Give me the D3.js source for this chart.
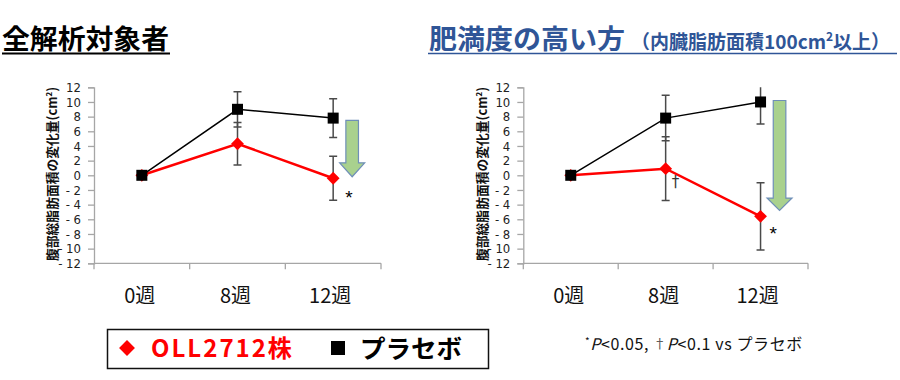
<!DOCTYPE html>
<html><head><meta charset="utf-8">
<script src="https://cdn.jsdelivr.net/npm/d3@7"></script>
<style>
body{margin:0;background:#fff;}
svg{display:block;}
</style></head>
<body>
<svg id="chart" width="900" height="380"></svg>
<script>
// ---- data ----
const categories = ["0週", "8週", "12週"];
const yTicks = [12, 10, 8, 6, 4, 2, 0, -2, -4, -6, -8, -10, -12];

const allOll   = [0, 4.3, -0.4];
const allOllSE = [0, 2.9, 3.0];
const allPla   = [0, 9.0, 7.8];
const allPlaSE = [0, 2.4, 2.65];

const obOll   = [0, 0.9, -5.6];
const obOllSE = [0, 4.35, 4.6];
const obPla   = [0, 7.8, 10.0];
const obPlaSE = [0, 3.1, 3.0];

// annotation values (arrow top / head start / tip) in data units
const allArrow = [7.5, 1.7, -0.2];
const obArrow  = [10.2, -3.1, -4.8];

const svg = d3.select("#chart");
const red = "#ff0000";

function panel(opts) {
  const x = d3.scaleBand().domain(categories).range([opts.x0, opts.x1]);
  const y = d3.scaleLinear().domain([-12, 12]).range([263.3, 87.3]);
  const g = svg.append("g");
  const axisCol = "#a6a6a6";

  // y axis
  const ya = g.append("g").attr("transform", `translate(${opts.x0},0)`)
    .call(d3.axisLeft(y).tickValues(yTicks).tickSize(6).tickPadding(7).tickFormat(d => d < 0 ? "- " + Math.abs(d) : d));
  ya.select(".domain").attr("stroke", axisCol).attr("stroke-width", 1.3);
  ya.selectAll(".tick line").attr("stroke", axisCol).attr("stroke-width", 1.3);
  ya.selectAll(".tick text").attr("fill", "#222")
    .style("font-family", "'Liberation Sans Narrow','DejaVu Sans Condensed',sans-serif")
    .style("font-size", "13px");

  // x axis line + boundary ticks
  const bounds = categories.map(c => x(c)).concat([opts.x1]);
  g.append("line").attr("x1", opts.x0).attr("x2", opts.x1)
    .attr("y1", y(-12)).attr("y2", y(-12)).attr("stroke", axisCol).attr("stroke-width", 1.3);
  g.selectAll(".xt").data(bounds).join("line")
    .attr("x1", d => d).attr("x2", d => d).attr("y1", y(-12)).attr("y2", y(-12) + 6)
    .attr("stroke", axisCol).attr("stroke-width", 1.3);
  g.selectAll(".xl").data(categories).join("text")
    .attr("x", d => x(d) + x.bandwidth() / 2 + (d === "12週" ? -3 : -2))
    .attr("y", 303)
    .attr("text-anchor", "middle")
    .style("font-family", "'Noto Sans CJK JP',sans-serif")
    .style("font-size", "20px").attr("fill", "#111").text(d => d);

  // y title
  g.append("text")
    .attr("transform", `translate(${opts.titleX},${174}) rotate(-90)`)
    .attr("text-anchor", "middle").attr("dominant-baseline", "central")
    .attr("textLength", 174).attr("lengthAdjust", "spacingAndGlyphs")
    .style("font-family", "'Noto Sans CJK JP',sans-serif").style("font-weight", "bold")
    .style("font-size", "13px").attr("fill", "#111")
    .html("腹部総脂肪面積の変化量(cm<tspan font-size='8' dy='-3'>2</tspan><tspan dy='3'>)</tspan>");

  const cx = c => x(c) + x.bandwidth() / 2;
  const clip = "clip" + opts.id;
  svg.append("clipPath").attr("id", clip).append("rect")
    .attr("x", opts.x0).attr("y", y(12)).attr("width", opts.x1 - opts.x0).attr("height", y(-12) - y(12));
  const pg = g.append("g").attr("clip-path", `url(#${clip})`);

  // error bars
  function errs(vals, se, col) {
    const d = categories.map((c, i) => ({c, v: vals[i], s: se[i]})).filter(e => e.s > 0);
    pg.selectAll(null).data(d).join("line")
      .attr("x1", e => cx(e.c)).attr("x2", e => cx(e.c))
      .attr("y1", e => y(e.v + e.s)).attr("y2", e => y(e.v - e.s))
      .attr("stroke", col).attr("stroke-width", 1.5);
    [1, -1].forEach(sg => {
      pg.selectAll(null).data(d).join("line")
        .attr("x1", e => cx(e.c) - 4).attr("x2", e => cx(e.c) + 4)
        .attr("y1", e => y(e.v + sg * e.s)).attr("y2", e => y(e.v + sg * e.s))
        .attr("stroke", col).attr("stroke-width", 1.5);
    });
  }
  errs(opts.pla, opts.plaSE, "#4a4a4a");
  errs(opts.oll, opts.ollSE, "#4a4a4a");

  const line = d3.line().x((d, i) => cx(categories[i])).y(d => y(d));
  pg.append("path").datum(opts.oll).attr("d", line).attr("fill", "none").attr("stroke", red).attr("stroke-width", 2.5);
  pg.append("path").datum(opts.pla).attr("d", line).attr("fill", "none").attr("stroke", "#000").attr("stroke-width", 1.5);

  // markers
  pg.selectAll(null).data(opts.oll).join("path")
    .attr("d", d3.symbol(d3.symbolDiamond2, 105)())
    .attr("transform", (d, i) => `translate(${cx(categories[i])},${y(d)})`)
    .attr("fill", red);
  pg.selectAll(null).data(opts.pla).join("rect")
    .attr("x", (d, i) => cx(categories[i]) - 5.5).attr("y", d => y(d) - 5.5)
    .attr("width", 11).attr("height", 11).attr("fill", "#000");

  // arrow annotation
  const a = opts.arrow;
  const ax = cx("12週") + opts.arrowDx;
  const sw = 6.3, hw = 12.5;
  const pts = [[ax - sw, y(a[0])], [ax + sw, y(a[0])], [ax + sw, y(a[1])], [ax + hw, y(a[1])],
               [ax, y(a[2])], [ax - hw, y(a[1])], [ax - sw, y(a[1])]];
  g.append("polygon").attr("points", pts.map(p => p.join(",")).join(" "))
    .attr("fill", "#a9d18e").attr("stroke", "#6f8fb8").attr("stroke-width", 1.2);
  return {x, y, g, cx};
}

const L = panel({id: "a", x0: 94, x1: 381, titleX: 51, oll: allOll, ollSE: allOllSE, pla: allPla, plaSE: allPlaSE, arrow: allArrow, arrowDx: 19});
const R = panel({id: "b", x0: 523.3, x1: 808, titleX: 481, oll: obOll, ollSE: obOllSE, pla: obPla, plaSE: obPlaSE, arrow: obArrow, arrowDx: 19});

// significance marks
L.g.append("text").attr("x", L.cx("12週") + 12).attr("y", L.y(allOll[2] - 3.0) + 4)
  .style("font-family", "'Liberation Sans',sans-serif").style("font-size", "19px").text("*");
R.g.append("text").attr("x", R.cx("12週") + 9).attr("y", R.y(obOll[2] - 2.7) + 4)
  .style("font-family", "'Liberation Sans',sans-serif").style("font-size", "19px").text("*");
R.g.append("text").attr("x", R.cx("8週") + 6).attr("y", R.y(obOll[1] - 2.5))
  .style("font-family", "'DejaVu Sans',sans-serif").style("font-size", "15px").attr("fill", "#333").text("†");

// titles
svg.append("text").attr("x", 2).attr("y", 49)
  .style("font-family", "'Noto Sans CJK JP',sans-serif").style("font-weight", "bold").style("font-size", "27px")
  .attr("textLength", 167).attr("lengthAdjust", "spacingAndGlyphs")
  .attr("fill", "#000").text("全解析対象者");
svg.append("line").attr("x1", 2).attr("x2", 170).attr("y1", 53.5).attr("y2", 53.5).attr("stroke", "#000").attr("stroke-width", 2);

const blue = "#2f5597";
svg.append("text").attr("x", 429).attr("y", 49)
  .style("font-family", "'Noto Sans CJK JP',sans-serif").style("font-weight", "bold").style("font-size", "27px")
  .attr("textLength", 196).attr("lengthAdjust", "spacingAndGlyphs")
  .attr("fill", blue).text("肥満度の高い方");
svg.append("text").attr("x", 631).attr("y", 49)
  .style("font-family", "'Noto Sans CJK JP',sans-serif").style("font-weight", "bold").style("font-size", "19px")
  .attr("fill", blue)
  .html("（内臓脂肪面積100cm<tspan font-size='12' dy='-8'>2</tspan><tspan dy='8'>以上）</tspan>");
svg.append("line").attr("x1", 428).attr("x2", 897).attr("y1", 53.5).attr("y2", 53.5).attr("stroke", blue).attr("stroke-width", 1.5);

// legend
svg.append("rect").attr("x", 107.5).attr("y", 329.5).attr("width", 381).attr("height", 39)
  .attr("fill", "#fff").attr("stroke", "#111").attr("stroke-width", 1.5);
svg.append("path").attr("d", d3.symbol(d3.symbolDiamond2, 160)()).attr("transform", "translate(127,348)").attr("fill", red);
svg.append("text").attr("x", 151).attr("y", 357)
  .style("font-family", "'Noto Sans CJK JP',sans-serif").style("font-weight", "bold").style("font-size", "24px")
  .style("letter-spacing", "2px")
  .attr("fill", red).text("OLL2712株");
svg.append("rect").attr("x", 331).attr("y", 341).attr("width", 14).attr("height", 14).attr("fill", "#000");
svg.append("text").attr("x", 360).attr("y", 358)
  .style("font-family", "'Noto Sans CJK JP',sans-serif").style("font-weight", "bold").style("font-size", "25px")
  .attr("textLength", 102).attr("lengthAdjust", "spacingAndGlyphs")
  .attr("fill", "#000").text("プラセボ");

// footnote
svg.append("text").attr("x", 585).attr("y", 350)
  .style("font-family", "'Noto Sans CJK JP',sans-serif").style("font-size", "16px").attr("fill", "#111")
  .style("letter-spacing", "0.6px")
  .html("<tspan font-size='10' dy='-5'>*</tspan><tspan dy='5' font-style='italic'>P</tspan>&lt;0.05, <tspan font-size='13' dy='-2' fill='#555'>†</tspan><tspan dy='2' font-style='italic'>P</tspan>&lt;0.1 vs プラセボ");
</script>
</body></html>
